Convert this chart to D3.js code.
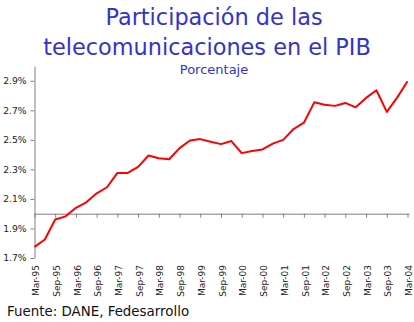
<!DOCTYPE html>
<html>
<head>
<meta charset="utf-8">
<script src="https://cdn.jsdelivr.net/npm/d3@7"></script>
<style>
  html, body { margin: 0; padding: 0; background: #fff; }
  svg { display: block; }
</style>
</head>
<body>
<svg id="chart" width="414" height="322"></svg>
<script>
const categories = [
  "Mar-95","Jun-95","Sep-95","Dic-95",
  "Mar-96","Jun-96","Sep-96","Dic-96",
  "Mar-97","Jun-97","Sep-97","Dic-97",
  "Mar-98","Jun-98","Sep-98","Dic-98",
  "Mar-99","Jun-99","Sep-99","Dic-99",
  "Mar-00","Jun-00","Sep-00","Dic-00",
  "Mar-01","Jun-01","Sep-01","Dic-01",
  "Mar-02","Jun-02","Sep-02","Dic-02",
  "Mar-03","Jun-03","Sep-03","Dic-03",
  "Mar-04"
];
const values = [
  1.775, 1.825, 1.961, 1.982,
  2.040, 2.077, 2.138, 2.179,
  2.276, 2.276, 2.317, 2.394,
  2.375, 2.369, 2.444, 2.496,
  2.505, 2.487, 2.471, 2.492,
  2.410, 2.424, 2.435, 2.474,
  2.500, 2.573, 2.616, 2.754,
  2.737, 2.730, 2.750, 2.720,
  2.784, 2.836, 2.689, 2.786,
  2.897
];
const tickLabels = categories.filter((c, i) => i % 2 === 0);
const yTicks = [1.7, 1.9, 2.1, 2.3, 2.5, 2.7, 2.9];
const yDomain = [1.7, 3.0];
const crossValue = 2.0;
const titleLines = ["Participación de las", "telecomunicaciones en el PIB"];
const subtitle = "Porcentaje";
const source = "Fuente: DANE, Fedesarrollo";

const svg = d3.select("#chart");
const font = "'DejaVu Sans', Verdana, sans-serif";

const x = d3.scalePoint().domain(categories).range([34.5, 407.5]);
const y = d3.scaleLinear().domain(yDomain).range([258, 66]);

// Titles
svg.append("text").attr("x", 214).attr("y", 25)
  .attr("text-anchor", "middle").attr("font-family", font)
  .attr("font-size", 22.4).attr("fill", "#3333CC").text(titleLines[0]);
svg.append("text").attr("x", 207).attr("y", 55)
  .attr("text-anchor", "middle").attr("font-family", font)
  .attr("font-size", 22.4).attr("fill", "#3333CC").text(titleLines[1]);
svg.append("text").attr("x", 214).attr("y", 74)
  .attr("text-anchor", "middle").attr("font-family", font)
  .attr("font-size", 13).attr("fill", "#3333CC").text(subtitle);

// Y axis
const yAxis = svg.append("g").attr("transform", "translate(34.5,0)")
  .call(d3.axisLeft(y).tickValues(yTicks).tickSize(4).tickSizeOuter(0).tickPadding(4)
    .tickFormat(d => d.toFixed(1) + "%"));
yAxis.selectAll("path, line").attr("stroke", "#808080");
yAxis.selectAll("text").attr("font-family", font).attr("font-size", 9.2).attr("fill", "#222");

// X axis (crossing at 2.0%)
const xAxis = svg.append("g").attr("transform", `translate(0,${y(crossValue)})`)
  .call(d3.axisBottom(x).tickValues(tickLabels).tickSize(4).tickSizeOuter(0).tickFormat(""));
xAxis.selectAll("path, line").attr("stroke", "#808080");
xAxis.select(".domain").attr("d", `M${x.range()[0]},0.5H${x.range()[1] + 2}`);

// X labels at bottom, rotated
svg.append("g").selectAll("text").data(tickLabels).join("text")
  .attr("transform", d => `translate(${x(d) + 1.5},265) rotate(-90)`)
  .attr("text-anchor", "end").attr("dy", "0.35em")
  .attr("font-family", font).attr("font-size", 9).attr("fill", "#222")
  .text(d => d);

// Line
const line = d3.line().x((d, i) => x(categories[i])).y(d => y(d));
svg.append("path").datum(values)
  .attr("d", line).attr("fill", "none")
  .attr("stroke", "#FF0000").attr("stroke-width", 2).attr("stroke-linejoin", "round");

// Source
svg.append("text").attr("x", 7).attr("y", 316)
  .attr("font-family", font).attr("font-size", 13.4).attr("fill", "#111")
  .text(source);
</script>
</body>
</html>
